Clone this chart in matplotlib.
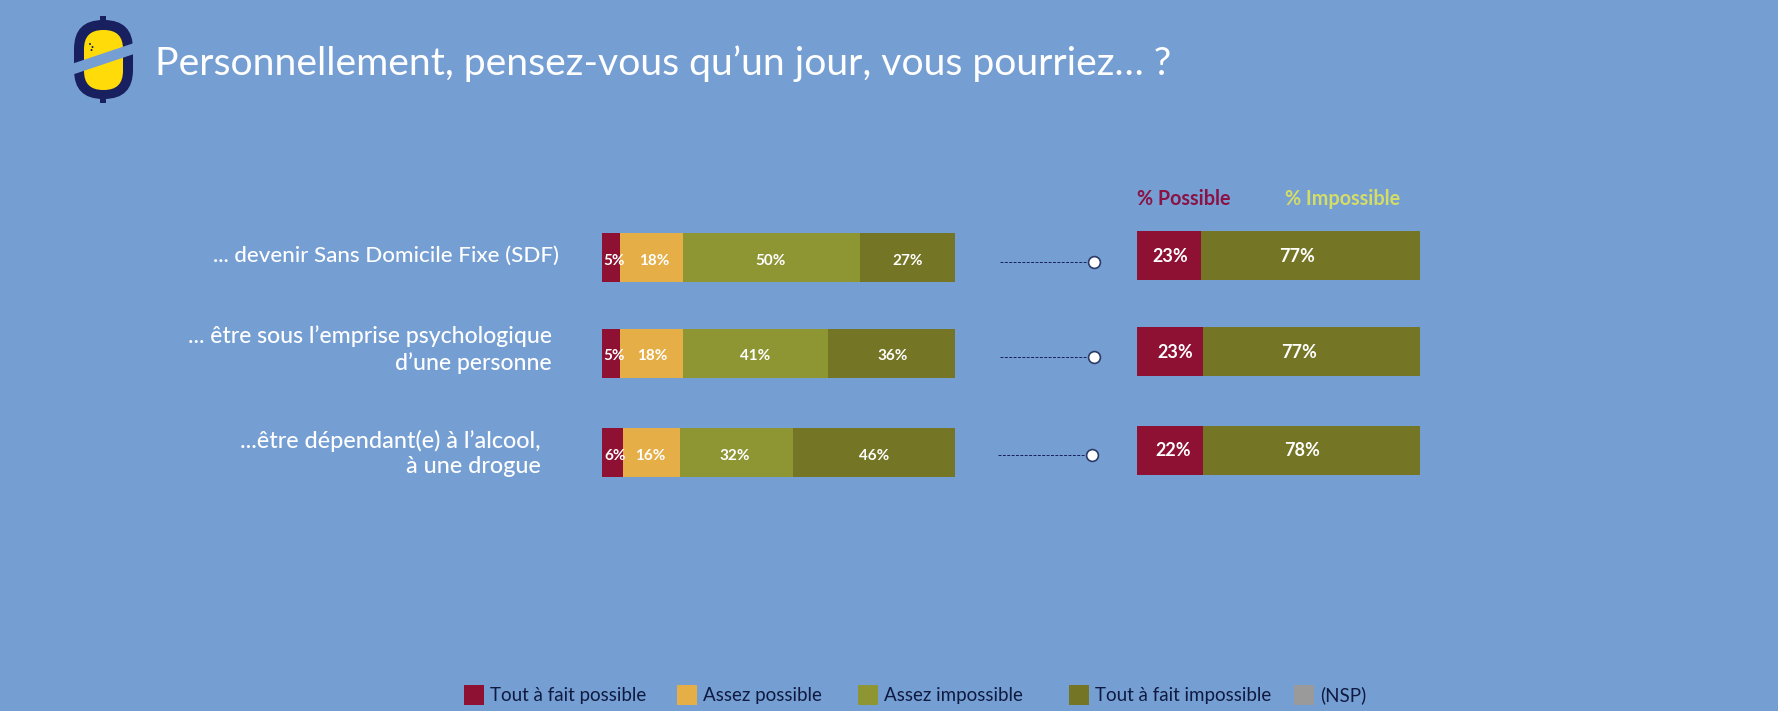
import matplotlib
matplotlib.use("Agg")
import matplotlib.pyplot as plt
from matplotlib.patches import Rectangle, FancyBboxPatch, Polygon, Circle

# ---- data ----
title = "Personnellement, pensez-vous qu\u2019un jour, vous pourriez\u2026 ?"
categories = ["... devenir Sans Domicile Fixe (SDF)",
              "... \u00eatre sous l\u2019emprise psychologique\nd\u2019une personne",
              "...\u00eatre d\u00e9pendant(e) \u00e0 l\u2019alcool,\n\u00e0 une drogue"]
tout_possible = [5, 5, 6]
assez_possible = [18, 18, 16]
assez_impossible = [50, 41, 32]
tout_impossible = [27, 36, 46]
pct_possible = [22.6, 23.3, 23.3]
pct_impossible = [77.4, 76.7, 76.7]
pct_possible_labels = ["23%", "23%", "22%"]
pct_impossible_labels = ["77%", "77%", "78%"]
legend_labels = ["Tout \u00e0 fait possible", "Assez possible", "Assez impossible",
                 "Tout \u00e0 fait impossible", "(NSP)"]

# ---- style ----
BG = "#759ED3"
CRIMSON = "#8E1033"
ORANGE = "#E5AE47"
OLIVE = "#8E9634"
DARK = "#747525"
GREY = "#9A9A9A"
NAVY = "#18205F"
W, H = 1778, 711
FONT = "Lato"
plt.rcParams["font.family"] = [FONT, "DejaVu Sans"]

fig = plt.figure(figsize=(W / 100, H / 100), dpi=100, facecolor=BG)

def panel(x0, x1):
    ax = fig.add_axes([x0 / W, 0, (x1 - x0) / W, 1])
    ax.set_xlim(0, 100)
    ax.set_ylim(H, 0)
    ax.axis("off")
    return ax

def stacked(ax, rows, height, series, colors, labels, dx, dy, size):
    for i, y in enumerate(rows):
        left = 0
        for j, s in enumerate(series):
            ax.barh(y, s[i], left=left, height=height, color=colors[j], linewidth=0)
            ax.annotate(labels[j][i], (left + s[i] / 2, y), xytext=(dx[i][j], -dy[i]),
                        textcoords="offset pixels", ha="center", va="center",
                        color="white", fontsize=size, fontweight="bold")
            left += s[i]

# left stacked bars
left_series = [tout_possible, assez_possible, assez_impossible, tout_impossible]
left_labels = [[f"{v}%" for v in s] for s in left_series]
ax1 = panel(602, 955)
stacked(ax1, [257.5, 353.5, 452.5], 49, left_series, [CRIMSON, ORANGE, OLIVE, DARK], left_labels,
        [[3, 3, -1, 0], [3, 1, 0, 1], [3, -1, -1, 0]], [3.5, 2.5, 3.5], 11)

# right stacked bars
ax2 = panel(1137, 1420)
stacked(ax2, [255.5, 351.5, 450.5], 49, [pct_possible, pct_impossible], [CRIMSON, DARK],
        [pct_possible_labels, pct_impossible_labels],
        [[1, -13], [5, -12], [3, -9]], [0.5, 0.5, -0.5], 13)

# overlay in pixel coordinates
ov = fig.add_axes([0, 0, 1, 1], zorder=5)
ov.set_xlim(0, W)
ov.set_ylim(H, 0)
ov.axis("off")
ov.patch.set_alpha(0)

# logo
ov.add_patch(Rectangle((100, 16), 6, 8, color=NAVY, lw=0))
ov.add_patch(Rectangle((100, 95), 6, 8, color=NAVY, lw=0))
ov.add_patch(FancyBboxPatch((74 + 29, 20 + 29), 1, 21, boxstyle="round,pad=29,rounding_size=29",
                            fc=NAVY, ec="none", mutation_aspect=1))
ov.add_patch(FancyBboxPatch((84 + 19, 30 + 19), 1, 22, boxstyle="round,pad=19,rounding_size=19",
                            fc="#FFDB0A", ec="none", mutation_aspect=1))
ov.add_patch(Polygon([(70, 64.5), (137, 42), (137, 53), (70, 75.5)], fc=BG, ec="none"))
for cx, cy in [(90, 44), (91.5, 50), (92.5, 47)]:
    ov.add_patch(Circle((cx, cy), 1, fc=NAVY, ec="none"))

ov.text(155, 64, title, color="white", fontsize=28.15, fontweight="normal", va="center", ha="left")

# category labels
cat_right = [559, 552, 541]
cat_y = [256, 349.5, 453.5]
for c, x, y, fs in zip(categories, cat_right, cat_y, [16.1, 16.6, 16.8]):
    ov.text(x, y, c, color="white", fontsize=fs, ha="right", va="center", linespacing=1.28,
            fontweight="medium")

# headers
ov.text(1137, 199, "% Possible", color="#8A1245", fontsize=14.2, fontweight="bold", va="center")
ov.text(1285, 199, "% Impossible", color="#D4DD66", fontsize=14.2, fontweight="bold", va="center")

# connectors
for x0, x1, y in [(1000, 1094, 262), (1000, 1094, 357), (998, 1092, 455)]:
    ov.plot([x0, x1], [y, y], color=NAVY, lw=0.7, ls=(0, (3, 1.5)))
    ov.plot([x1], [y], marker="o", ms=8.5, mfc="white", mec="#2B3A66", mew=1.2)

# legend
leg_x = [464, 677, 858, 1069, 1294]
leg_colors = [CRIMSON, ORANGE, OLIVE, DARK, GREY]
for x, col, lab in zip(leg_x, leg_colors, legend_labels):
    ov.add_patch(Rectangle((x, 685), 20, 20, color=col, lw=0))
    ov.text(x + 26, 695, lab, color="#0F1A40", fontsize=13.5, va="center", ha="left")

fig.savefig("out.png", dpi=100, facecolor=BG)
